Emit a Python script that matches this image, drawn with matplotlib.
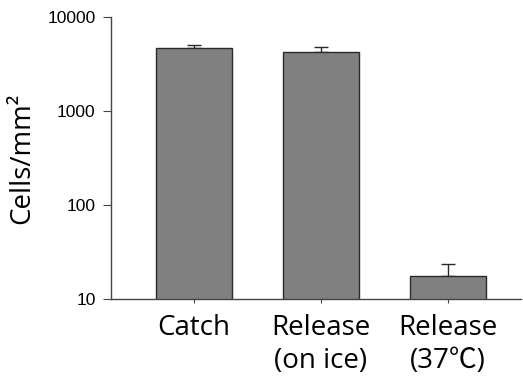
import matplotlib
matplotlib.use("Agg")
import matplotlib.pyplot as plt
import numpy as np

categories = ["Catch", "Release\n(on ice)", "Release\n(37\u2103)"]
values = [4640, 4210, 17.7]
errors = [430, 590, 5.8]
yticks = [10, 100, 1000, 10000]

fig = plt.figure(figsize=(5.23, 3.83), dpi=100)
ax = fig.add_axes([0.212, 0.219, 0.784, 0.737])
x = np.arange(len(categories))
ax.bar(x, values, width=0.6, color="#808080", edgecolor="#2a2a2a", linewidth=1.0, zorder=2)
ax.errorbar(x, values, yerr=[np.zeros(len(values)), errors], fmt="none",
            ecolor="#2a2a2a", elinewidth=1.0, capsize=5, capthick=1.0, zorder=1)
ax.set_yscale("log")
ax.set_ylim(10, 10000)
ax.set_xlim(-0.654, 2.575)
ax.set_yticks(yticks)
ax.set_yticklabels([str(v) for v in yticks], family="Liberation Sans", fontsize=12.5)
ax.yaxis.set_minor_locator(matplotlib.ticker.NullLocator())
ax.set_xticks(x)
ax.set_xticklabels(categories, family=["Open Sans", "Noto Sans CJK JP"], fontsize=20,
                   linespacing=1.2)
ax.tick_params(axis="y", direction="out", length=6, color="#444444", pad=5)
ax.tick_params(axis="x", direction="out", length=3, color="#444444", pad=8)
for s in ["top", "right"]:
    ax.spines[s].set_visible(False)
for s in ["left", "bottom"]:
    ax.spines[s].set_color("#444444")
    ax.spines[s].set_linewidth(1.0)
ax.set_ylabel("Cells/mm\u00b2", family="Open Sans", fontsize=20, labelpad=8)
fig.savefig("out.png", dpi=100)
